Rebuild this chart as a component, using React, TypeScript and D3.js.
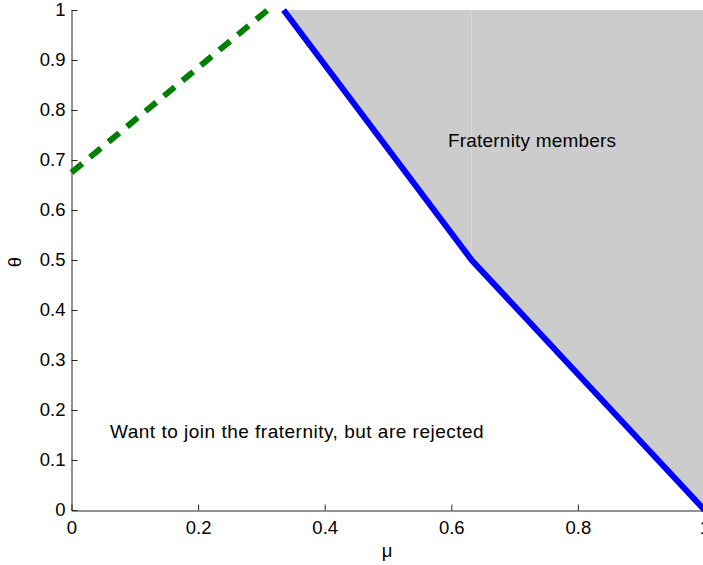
import { useEffect, useRef } from "react"
import * as d3 from "d3"

// boundary of the fraternity region (blue)
const boundaryMu = [0.335, 0.632, 1]
const boundaryTheta = [1, 0.5, 0]

// green dashed line
const dashedMu = [0, 0.31]
const dashedTheta = [0.675, 1]

const xTicks = [0, 0.2, 0.4, 0.6, 0.8, 1]
const yTicks = [0, 0.1, 0.2, 0.3, 0.4, 0.5, 0.6, 0.7, 0.8, 0.9, 1]

const width = 703
const height = 565
const font = "'Liberation Sans', Arial, Helvetica, sans-serif"

export default function App() {
  const svgRef = useRef<SVGSVGElement>(null)

  useEffect(() => {
    if (!svgRef.current) return
    const svg = d3.select(svgRef.current)
    svg.selectAll("*").remove()

    const x = d3.scaleLinear().domain([0, 1]).range([71.5, 704.5])
    const y = d3.scaleLinear().domain([0, 1]).range([510, 10])

    // gray region, drawn as two patches (leaves the faint seam)
    const kink = 1
    const patchA: [number, number][] = [
      [boundaryMu[0], boundaryTheta[0]],
      [boundaryMu[kink], boundaryTheta[kink]],
      [boundaryMu[kink], 1],
    ]
    const patchB: [number, number][] = [
      [boundaryMu[kink], 1],
      [boundaryMu[kink], boundaryTheta[kink]],
      [boundaryMu[2], boundaryTheta[2]],
      [boundaryMu[2], 1],
    ]
    const area = d3.line<[number, number]>().x(d => x(d[0])).y(d => y(d[1]))
    ;[patchA, patchB].forEach(p => {
      svg.append("path")
        .attr("d", area(p) + "Z")
        .attr("fill", "#cccccc")
    })

    // axes, ticks pointing inward
    const xAxis = d3.axisBottom(x)
      .tickValues(xTicks)
      .tickFormat(d => d3.format("")(+d))
      .tickSizeInner(-6)
      .tickSizeOuter(0)
      .tickPadding(10)
    const yAxis = d3.axisLeft(y)
      .tickValues(yTicks)
      .tickFormat(d => d3.format("")(+d))
      .tickSizeInner(-6)
      .tickSizeOuter(0)
      .tickPadding(6)

    const gx = svg.append("g").attr("transform", "translate(0,510.5)").call(xAxis)
    const gy = svg.append("g").attr("transform", `translate(${x(0)},0)`).call(yAxis)
    ;[gx, gy].forEach(g => {
      g.select(".domain").attr("stroke", "#262626")
      g.selectAll(".tick line").attr("stroke", "#262626")
      g.selectAll(".tick text")
        .attr("fill", "#000")
        .attr("font-family", font)
        .attr("font-size", 18.5)
    })

    // boundary line
    const line = d3.line<number>()
      .x((_, i) => x(boundaryMu[i]))
      .y(d => y(d))
    svg.append("path")
      .attr("d", line(boundaryTheta))
      .attr("fill", "none")
      .attr("stroke", "#0000ff")
      .attr("stroke-width", 6)

    const dashLine = d3.line<number>()
      .x((_, i) => x(dashedMu[i]))
      .y(d => y(d))
    svg.append("path")
      .attr("d", dashLine(dashedTheta))
      .attr("fill", "none")
      .attr("stroke", "#007f00")
      .attr("stroke-width", 6)
      .attr("stroke-dasharray", "14,10")

    // annotations
    svg.append("text")
      .attr("x", 448)
      .attr("y", 147)
      .attr("font-family", font)
      .attr("font-size", 19)
      .attr("letter-spacing", 0.2)
      .text("Fraternity members")
    svg.append("text")
      .attr("x", 110)
      .attr("y", 438)
      .attr("font-family", font)
      .attr("font-size", 19)
      .attr("letter-spacing", 0.5)
      .text("Want to join the fraternity, but are rejected")

    // axis labels
    svg.append("text")
      .attr("x", 387)
      .attr("y", 557)
      .attr("text-anchor", "middle")
      .attr("font-family", font)
      .attr("font-size", 18.5)
      .text("μ")
    svg.append("text")
      .attr("transform", "translate(21,262) rotate(-90)")
      .attr("text-anchor", "middle")
      .attr("font-family", font)
      .attr("font-size", 18.5)
      .text("θ")
  }, [])

  return (
    <svg
      ref={svgRef}
      width={width}
      height={height}
      style={{ position: "absolute", left: 0, top: 0, background: "#fff" }}
    />
  )
}
